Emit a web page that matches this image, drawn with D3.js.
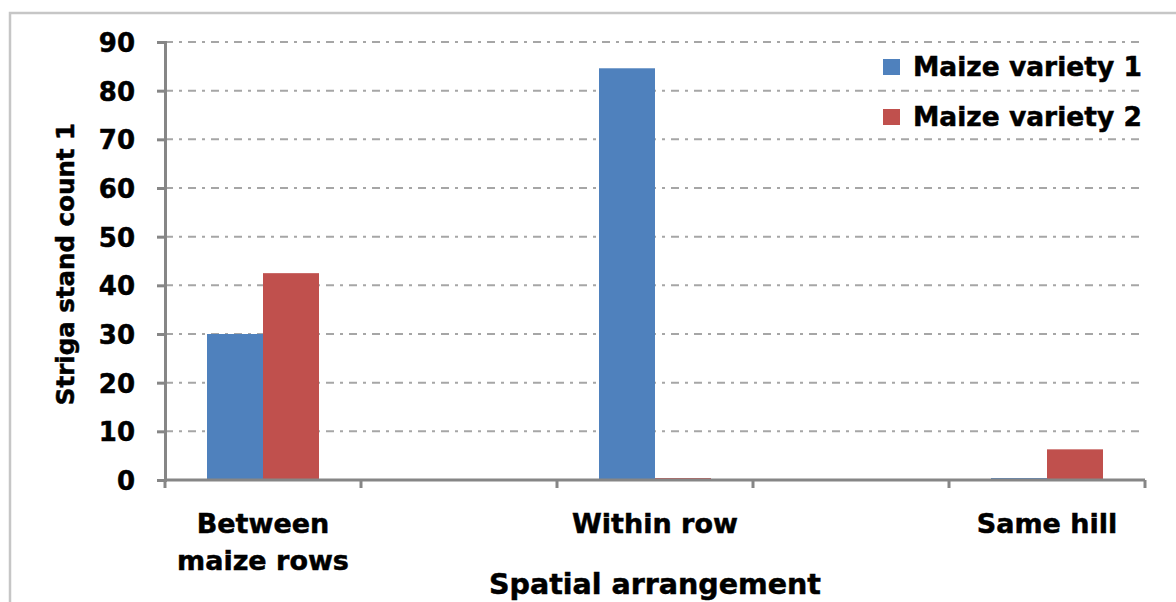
<!DOCTYPE html>
<html>
<head>
<meta charset="utf-8">
<script src="https://cdn.jsdelivr.net/npm/d3@7"></script>
<style>
  html, body { margin: 0; padding: 0; background: #fff; }
  svg { display: block; }
  text { font-family: "DejaVu Sans", Verdana, sans-serif; font-weight: bold; fill: #000; stroke: #000; stroke-width: 0.5px; }
</style>
</head>
<body>
<svg id="chart" width="1176" height="602"></svg>
<script>
// Category slots along the x axis (blank slots separate the arrangements)
const categories = [["Between", "maize rows"], [""], ["Within row"], [""], ["Same hill"]];
const seriesNames = ["Maize variety 1", "Maize variety 2"];
const variety1 = [30, 0, 84.6, 0, 0.4];
const variety2 = [42.5, 0, 0.4, 0, 6.3];
const yTicks = [0, 10, 20, 30, 40, 50, 60, 70, 80, 90];
const colors = ["#4f81bd", "#c0504d"];

const svg = d3.select("#chart");
const plot = { left: 165, right: 1145, top: 42, bottom: 480 };

// Outer chart frame
svg.append("rect")
  .attr("x", 10).attr("y", 13)
  .attr("width", 1300).attr("height", 800)
  .attr("fill", "#fff")
  .attr("stroke", "#c6c6c6").attr("stroke-width", 2.5);

const x0 = d3.scaleBand()
  .domain(d3.range(categories.length))
  .range([plot.left, plot.right])
  .paddingInner(0).paddingOuter(0);

const x1 = d3.scaleBand()
  .domain(d3.range(seriesNames.length))
  .range([0, x0.bandwidth()])
  .paddingInner(0).paddingOuter(0.75);

const y = d3.scaleLinear().domain([0, 90]).range([plot.bottom, plot.top]);

// Horizontal dash-dot gridlines
svg.append("g")
  .selectAll("line")
  .data(yTicks.filter(d => d > 0))
  .join("line")
  .attr("x1", plot.left).attr("x2", plot.right)
  .attr("y1", d => y(d)).attr("y2", d => y(d))
  .attr("stroke", "#a6a6a6").attr("stroke-width", 2)
  .attr("stroke-dasharray", "8,6,3,6");

// Bars
const seriesValues = [variety1, variety2];
const barG = svg.append("g");
seriesValues.forEach((vals, si) => {
  barG.selectAll(null)
    .data(vals.map((v, i) => ({ v, i })).filter(d => d.v > 0))
    .join("rect")
    .attr("x", d => x0(d.i) + x1(si))
    .attr("width", x1.bandwidth())
    .attr("y", d => y(d.v))
    .attr("height", d => y(0) - y(d.v))
    .attr("fill", colors[si]);
});

// Y axis
const yAxis = svg.append("g")
  .attr("transform", `translate(${plot.left},0)`)
  .call(d3.axisLeft(y).tickValues(yTicks).tickSize(8).tickPadding(22));
yAxis.select(".domain").attr("stroke", "#868686").attr("stroke-width", 3);
yAxis.selectAll(".tick line").attr("stroke", "#868686").attr("stroke-width", 3);
yAxis.selectAll(".tick text")
  .style("font-size", "26px").style("font-weight", "bold")
  .style("font-family", "'DejaVu Sans', Verdana, sans-serif")
  .attr("fill", "#000").attr("dy", "0.36em");

// X axis line with ticks at slot boundaries
const xg = svg.append("g");
const boundaries = d3.range(categories.length).map(i => x0(i)).concat([x0.range()[1]]);
xg.append("line")
  .attr("x1", plot.left).attr("x2", plot.right)
  .attr("y1", y(0)).attr("y2", y(0))
  .attr("stroke", "#868686").attr("stroke-width", 3);
xg.selectAll("line.tick")
  .data(boundaries)
  .join("line")
  .attr("class", "tick")
  .attr("x1", d => d).attr("x2", d => d)
  .attr("y1", y(0)).attr("y2", y(0) + 8)
  .attr("stroke", "#868686").attr("stroke-width", 3);

// Category labels
const catG = svg.append("g");
categories.forEach((lines, i) => {
  const cx = x0(i) + x0.bandwidth() / 2;
  const t = catG.append("text")
    .attr("text-anchor", "middle")
    .attr("x", cx)
    .attr("y", 533)
    .style("font-size", "27px");
  lines.forEach((ln, k) => {
    t.append("tspan")
      .attr("x", cx)
      .attr("dy", k === 0 ? 0 : 37)
      .text(ln);
  });
});

// Axis titles
svg.append("text")
  .attr("text-anchor", "middle")
  .attr("x", (plot.left + plot.right) / 2)
  .attr("y", 594)
  .style("font-size", "28.5px")
  .text("Spatial arrangement");

svg.append("text")
  .attr("text-anchor", "middle")
  .attr("transform", `translate(74,${(plot.top + plot.bottom) / 2 + 3}) rotate(-90)`)
  .style("font-size", "24.5px")
  .text("Striga stand count 1");

// Legend
const legend = svg.append("g");
seriesNames.forEach((name, i) => {
  const g = legend.append("g").attr("transform", `translate(883,${59 + i * 50})`);
  g.append("rect").attr("width", 17).attr("height", 16).attr("fill", colors[i]).attr("stroke", "none");
  g.append("text").attr("x", 30).attr("y", 17).style("font-size", "26.5px").text(name);
});
</script>
</body>
</html>
